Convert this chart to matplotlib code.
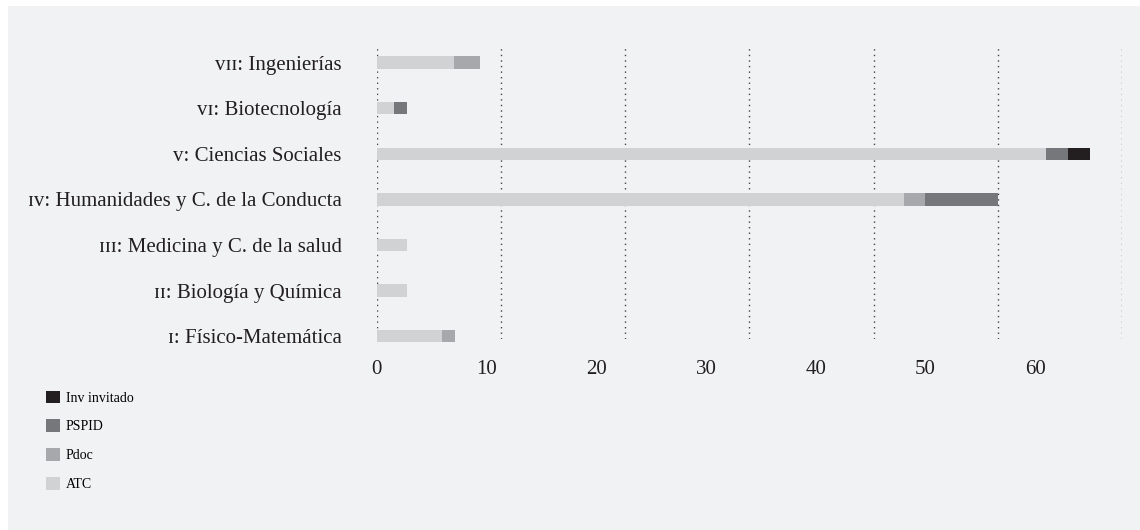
import numpy as np
import matplotlib
matplotlib.use("Agg")
from matplotlib import pyplot as plt
from matplotlib.patches import Rectangle, Patch

# Data (bottom to top)
areas = ['ɪ: Físico-Matemática', 'ɪɪ: Biología y Química', 'ɪɪɪ: Medicina y C. de la salud',
         'ɪᴠ: Humanidades y C. de la Conducta', 'ᴠ: Ciencias Sociales',
         'ᴠɪ: Biotecnología', 'ᴠɪɪ: Ingenierías']
atc = [6.0, 2.8, 2.8, 48.0, 61.0, 1.6, 7.1]
pdoc = [1.15, 0, 0, 2.0, 0, 0, 2.35]
pspid = [0, 0, 0, 6.65, 2.0, 1.2, 0]
inv = [0, 0, 0, 0, 2.0, 0, 0]
series = [('ATC', atc, '#d1d2d4'), ('Pdoc', pdoc, '#a7a8ab'),
          ('PSPID', pspid, '#76777a'), ('Inv invitado', inv, '#231f20')]
xticks = [0, 10, 20, 30, 40, 50, 60]

serif = ['Liberation Serif', 'DejaVu Serif']
plt.rcParams['font.family'] = serif

fig = plt.figure(figsize=(11.4, 5.3), dpi=100)
fig.patch.set_facecolor('white')
# light panel behind the chart
fig.patches.append(Rectangle((8 / 1140, 0), 1, 1 - 6 / 530, transform=fig.transFigure,
                             facecolor='#f1f2f4', edgecolor='none', zorder=-10))

ax = fig.add_axes([376.5 / 1140, 191 / 530, (1122 - 376.5) / 1140, 291 / 530])
ax.set_facecolor('none')

y = np.arange(len(areas))
left = np.zeros(len(areas))
for name, vals, col in series:
    vals = np.array(vals)
    ax.barh(y, vals, left=left, height=0.27, color=col, label=name, zorder=3, clip_on=False)
    left += vals

xmax = 67.9
ax.set_xlim(0, xmax)
ax.set_ylim(-0.06, 6.32)

# dotted vertical gridlines split the axis in equal parts
for gx in np.linspace(0, xmax, 7):
    ax.axvline(gx, color='#444444', linestyle=(0, (1, 3)), linewidth=1.0, zorder=1)

for s in ax.spines.values():
    s.set_visible(False)

ax.set_yticks(y)
ax.set_yticklabels(areas, fontsize=15, color='#231f20')
ax.set_xticks(xticks)
ax.set_xticklabels([str(t) for t in xticks], fontsize=15, color='#231f20')
ax.tick_params(axis='y', length=0, pad=25)
ax.tick_params(axis='x', length=0, pad=15)

handles = [Patch(facecolor=c, label=n) for n, _, c in series[::-1]]
fig.legend(handles=handles, loc='upper left', bbox_to_anchor=(40 / 1140, 1 - 385 / 530),
           frameon=False, fontsize=10, handlelength=1.05, handleheight=1.05,
           handletextpad=0.4, labelspacing=1.05, borderaxespad=0)

fig.savefig('out.png', dpi=100)
